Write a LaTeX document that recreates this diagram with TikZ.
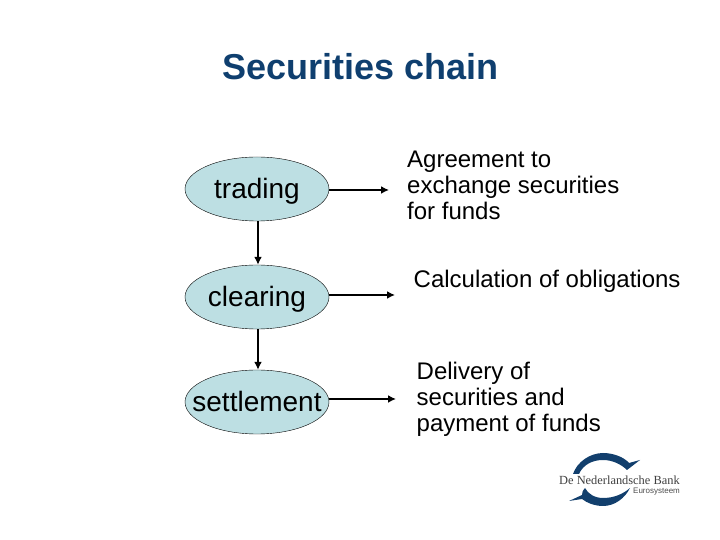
\documentclass[tikz,border=0pt]{standalone}
\usepackage{fontspec}
\setmainfont{Liberation Sans}
\newfontfamily\serifname{Liberation Serif}
\usetikzlibrary{shapes.geometric,arrows.meta}
\definecolor{titleblue}{HTML}{0F3F6F}
\definecolor{stagefill}{HTML}{BDDFE3}
\definecolor{logoblue}{HTML}{123F6D}
\tikzset{
  stage/.style={draw=black,fill=stagefill,ellipse,minimum width=144pt,minimum height=64pt,inner sep=-20pt,text height=26pt,text depth=6pt,font=\fontsize{28}{30}\selectfont},
  note/.style={anchor=west,align=left,inner sep=0pt,font=\fontsize{24}{26}\selectfont},
  link/.style={draw=black,line width=1.8pt,-{Latex[length=8pt,width=8pt]}}
}
\begin{document}
\begin{tikzpicture}[x=1pt,y=1pt]
    \useasboundingbox (0,0) rectangle (720,540);
    % title
    \node[anchor=west,inner sep=0pt,text=titleblue,font=\fontsize{36}{38}\selectfont\bfseries] (title) at (222,473) {Securities chain};
    % stages
    \foreach \name/\y/\label in {trading/351/trading,clearing/243/clearing,settlement/138/settlement} {
      \node[stage] (\name) at (257,\y) {\label};
    }
    % what each stage does
    \node[note] (agreement) at (407,355) {Agreement to\\exchange securities\\for funds};
    \node[note] (calculation) at (413.5,259) {Calculation of obligations};
    \node[note] (delivery) at (416.5,141) {Delivery of\\securities and\\payment of funds};
    % free ends of the arrows
    \coordinate (tradingend) at (389,350);
    \coordinate (clearingend) at (395,245);
    \coordinate (settlementend) at (396,141);
    \draw[link] (trading.east |- tradingend) -- (tradingend);
    \draw[link] (clearing.east |- clearingend) -- (clearingend);
    \draw[link] (settlement.east |- settlementend) -- (settlementend);
    \draw[link] ([xshift=1pt]trading.south) -- ([xshift=1pt]clearing.north);
    \draw[link] ([xshift=1pt]clearing.south) -- ([xshift=1pt]settlement.north);
    % logo
    \begin{scope}[shift={(540,100)},y=-1pt]
      \fill[logoblue] (33,34) .. controls (37,22) and (50,13) .. (63,13) .. controls (73,13) and (84,17) .. (89,23) -- (100,20) -- (87,30) .. controls (81,24) and (72,20) .. (63,20) .. controls (52,20) and (43,25) .. (39,34) -- cycle;
      \fill[logoblue] (29,61) -- (42,55) .. controls (42,52) and (43,50) .. (45,48) .. controls (48,54) and (55,58) .. (63,58) .. controls (74,58) and (83,54) .. (90,48) .. controls (85,58) and (75,66) .. (63,66) .. controls (55,66) and (47,63) .. (42,59) -- cycle;
      \node[anchor=west,inner sep=0pt,text=black!75,font=\serifname\fontsize{12.4}{13}\selectfont] (bankname) at (19,40) {De Nederlandsche Bank};
      \node[anchor=west,inner sep=0pt,text=black!70,font=\fontsize{8}{9}\selectfont] (eurosystem) at (93,51.5) {Eurosysteem};
    \end{scope}
\end{tikzpicture}
\end{document}
